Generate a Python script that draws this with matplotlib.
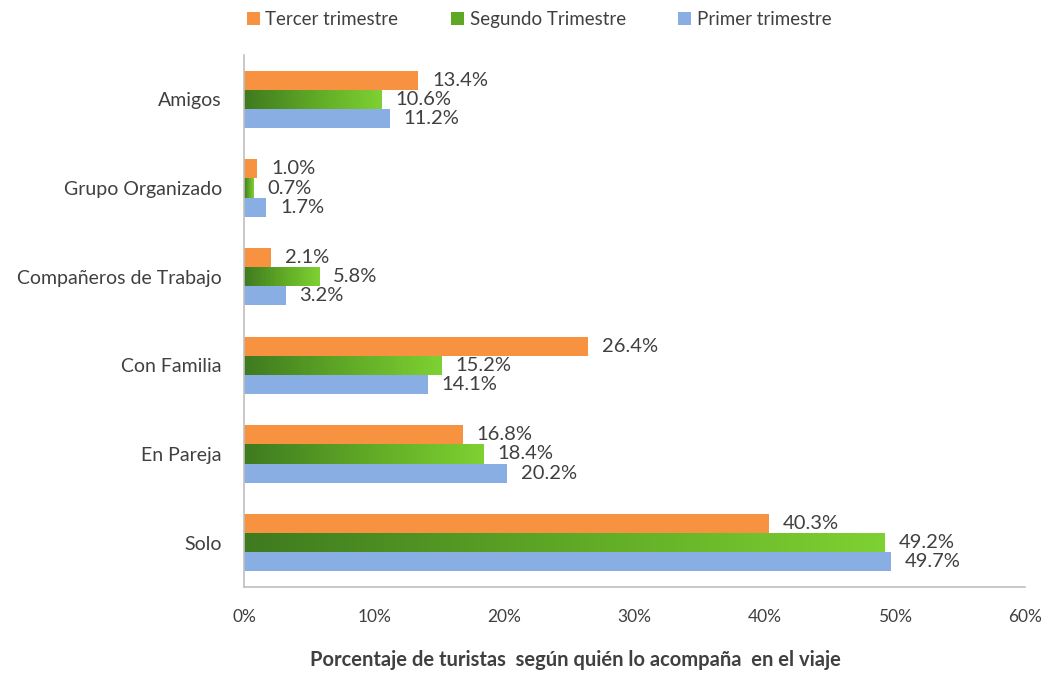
import numpy as np
import matplotlib.pyplot as plt
from matplotlib.colors import LinearSegmentedColormap
from matplotlib.ticker import PercentFormatter

plt.rcParams['font.family'] = ['Lato', 'DejaVu Sans']

categorias = ["Amigos", "Grupo Organizado", "Compañeros de Trabajo",
              "Con Familia", "En Pareja", "Solo"]
tercer = [13.4, 1.0, 2.1, 26.4, 16.8, 40.3]
segundo = [10.6, 0.7, 5.8, 15.2, 18.4, 49.2]
primer = [11.2, 1.7, 3.2, 14.1, 20.2, 49.7]

c_naranja = "#F79340"
c_azul = "#88AEE4"
verde = LinearSegmentedColormap.from_list("verde", ["#3F7A1F", "#5FA826", "#7ED132"])
txt = "#404040"

fig = plt.figure(figsize=(10.53, 6.75), dpi=100)
ax = fig.add_axes([0.2317, 0.1304, 0.7417, 0.7881])

y = np.arange(len(categorias))
h = 0.215

b3 = ax.barh(y - h, tercer, height=h, color=c_naranja, label="Tercer trimestre")
b2 = ax.barh(y, segundo, height=h, color="#5FA826", label="Segundo Trimestre")
b1 = ax.barh(y + h, primer, height=h, color=c_azul, label="Primer trimestre")

# degradado en las barras verdes
grad = np.linspace(0, 1, 256).reshape(1, -1)
for bar in b2:
    x0, y0 = bar.get_x(), bar.get_y()
    w, hh = bar.get_width(), bar.get_height()
    im = ax.imshow(grad, cmap=verde, aspect="auto",
                   extent=[x0, x0 + w, y0 + hh, y0], zorder=2)
    im.set_clip_path(bar)

for bars, vals in ((b3, tercer), (b2, segundo), (b1, primer)):
    for bar, v in zip(bars, vals):
        ax.annotate("{:.1f}%".format(v),
                    xy=(bar.get_width(), bar.get_y() + bar.get_height() / 2),
                    xytext=(10, 0), textcoords="offset points",
                    va="center", ha="left", fontsize=14.5, color=txt)

ax.set_xlim(0, 60)
ax.set_ylim(len(categorias) - 0.5, -0.5)
ax.set_xticks(np.arange(0, 61, 10))
ax.xaxis.set_major_formatter(PercentFormatter(decimals=0))
ax.set_yticks(y)
ax.set_yticklabels(categorias)
ax.tick_params(axis="x", length=0, pad=16, labelsize=12.5, labelcolor=txt)
ax.tick_params(axis="y", length=0, pad=16, labelsize=14, labelcolor=txt)

for s in ("top", "right"):
    ax.spines[s].set_visible(False)
for s in ("left", "bottom"):
    ax.spines[s].set_color("#BFBFBF")
    ax.spines[s].set_linewidth(1.2)

fig.legend(handles=[b3, b2, b1], loc="center", bbox_to_anchor=(0.512, 0.971),
           ncol=3, frameon=False, fontsize=13.5, handlelength=0.7,
           handleheight=0.7, handletextpad=0.3, columnspacing=2.8,
           labelcolor=txt)

fig.text(0.546, 0.022, "Porcentaje de turistas  según quién lo acompaña  en el viaje",
         ha="center", va="center", fontsize=14.5, fontweight="bold", color=txt)

fig.savefig("out.png", dpi=100)
